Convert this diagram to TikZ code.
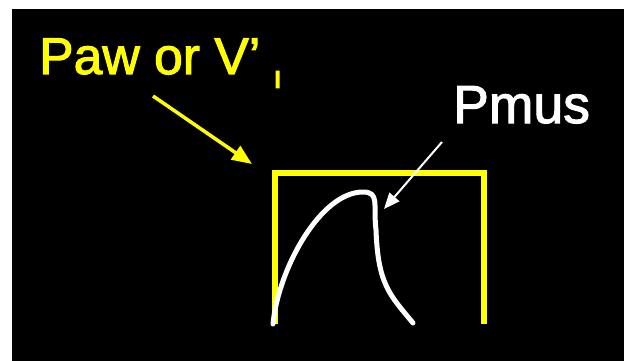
\documentclass[tikz,border=0pt]{standalone}
\usepackage{fontspec}
\setmainfont{Liberation Sans}
\newfontfamily\lblfont[FakeBold=2]{Liberation Sans}
\newfontfamily\subfont[FakeBold=8]{Liberation Sans}
\usetikzlibrary{arrows.meta}
\definecolor{ylw}{RGB}{255,255,0}
\begin{document}
\begin{tikzpicture}[x=1pt,y=-1pt,
  lbl/.style={inner sep=0pt,anchor=base west,font=\lblfont\fontsize{51.7}{52}\selectfont},
  boxline/.style={draw=ylw,line width=6pt,line join=miter},
  curveline/.style={draw=white,line width=5pt,line cap=round,line join=round},
  yarrow/.style={draw=ylw,line width=3.5pt,-{Triangle[length=20pt,width=16pt]}},
  warrow/.style={draw=white,line width=2pt,-{Triangle[length=16pt,width=13pt]}}]
\useasboundingbox (0,0) rectangle (624,361);
\fill[white] (0,0) rectangle (624,361);
\fill[black] (12,9) rectangle (624,361);
% labels
\node[lbl,text=ylw] (paw) at (39,74) {Paw or V’\kern14pt\raisebox{-13.5pt}{\subfont\fontsize{23}{23}\selectfont I}};
\node[lbl,text=white,font=\lblfont\fontsize{53.5}{54}\selectfont] (pmus) at (453,123) {Pmus};
% box
\coordinate (bl) at (275,324);
\coordinate (tl) at (275,173);
\coordinate (tr) at (484,173);
\coordinate (br) at (484,324);
\draw[boxline] (bl) -- (tl) -- (tr) -- (br);
% curve
\coordinate (c0) at (273,324);
\coordinate (c1) at (363,192);
\coordinate (c2) at (376,230);
\coordinate (c3) at (413,323);
\draw[curveline] (c0) .. controls (278,270) and (320,192) .. (c1)
  .. controls (380,192) and (373,205) .. (c2)
  .. controls (378,285) and (390,295) .. (c3);
% arrows
\coordinate (ya0) at (153,96);
\coordinate (ya1) at (252,164);
\draw[yarrow] (ya0) -- (ya1);
\coordinate (wa0) at (442,142);
\coordinate (wa1) at (384,209);
\draw[warrow] (wa0) -- (wa1);
\end{tikzpicture}
\end{document}
